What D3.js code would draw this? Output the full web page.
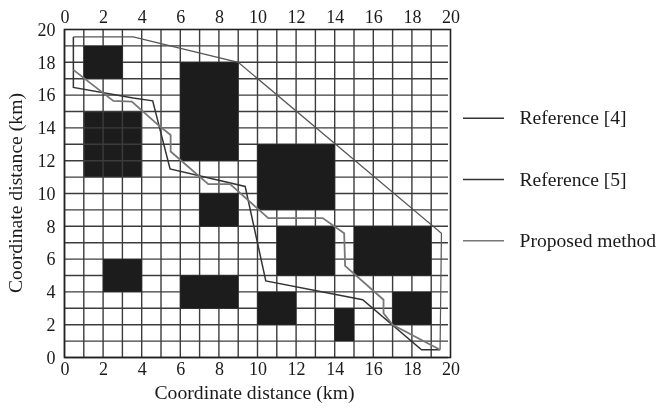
<!DOCTYPE html>
<html>
<head>
<meta charset="utf-8">
<script src="https://cdn.jsdelivr.net/npm/d3@7"></script>
<style>
body { margin: 0; background: #fff; }
svg { display: block; filter: blur(0.35px); }
text { font-family: "Liberation Serif", serif; fill: #1a1a1a; }
</style>
</head>
<body>
<div id="chart"></div>
<script>
const gridValues = d3.range(0, 20);
const tickValues = d3.range(0, 21, 2);

// obstacles as [x0, y0, x1, y1] in km
const griddedObstacles = [
    [1, 11, 4, 15]
];
const solidObstacles = [
    [1, 17, 3, 19],
    [6, 12, 9, 18],
    [10, 9, 14, 13],
    [7, 8, 9, 10],
    [11, 5, 14, 8],
    [15, 5, 19, 8],
    [2, 4, 4, 6],
    [6, 3, 9, 5],
    [10, 2, 12, 4],
    [17, 2, 19, 4],
    [14, 1, 15, 3]
];

const pathRef4 = [
    [0.46, 19.55], [3.56, 19.55], [9, 18], [19.53, 7.58], [19.46, 0.47]
];
const pathRef5 = [
    [0.46, 19.55], [0.46, 16.47], [3.56, 15.82], [4.57, 15.65], [5.47, 11.5], [9.36, 10.43],
    [10.43, 4.67], [15.45, 3.52], [18.5, 0.47], [19.46, 0.47]
];
const pathProposed = [
    [0.46, 17.54], [2.53, 15.65], [3.49, 15.6], [4.95, 14.08], [5.5, 13.57], [5.5, 12.56],
    [7.45, 10.57], [8.58, 10.57], [10.56, 8.5], [13.38, 8.5], [14.49, 7.58], [14.54, 5.59],
    [16.53, 3.52], [16.53, 2.7], [17, 2], [19.46, 0.47]
];

const legendLabels = ["Reference [4]", "Reference [5]", "Proposed method"];
const legendColors = ["#333", "#333", "#777"];

const svg = d3.select("#chart").append("svg").attr("width", 658).attr("height", 408);

const scaleX = d3.scaleLinear().domain([0, 20]).range([64.5, 450.5]);
const scaleY = d3.scaleLinear().domain([0, 20]).range([357.5, 29.5]);

function drawObstacles(data) {
    svg.append("g").selectAll("rect").data(data).enter().append("rect")
        .attr("x", d => scaleX(d[0]))
        .attr("y", d => scaleY(d[3]))
        .attr("width", d => scaleX(d[2]) - scaleX(d[0]))
        .attr("height", d => scaleY(d[1]) - scaleY(d[3]))
        .attr("fill", "#1c1c1c");
}

drawObstacles(griddedObstacles);

const grid = svg.append("g").attr("stroke", "#3c3c3c").attr("stroke-width", 1.4);
grid.selectAll("line.v").data(gridValues).enter().append("line")
    .attr("class", "v")
    .attr("x1", d => scaleX(d)).attr("x2", d => scaleX(d))
    .attr("y1", scaleY(0)).attr("y2", scaleY(20));
// the horizontal lines stop just short of the right border
grid.selectAll("line.h").data(gridValues).enter().append("line")
    .attr("class", "h")
    .attr("x1", scaleX(0)).attr("x2", scaleX(19.87))
    .attr("y1", d => scaleY(d)).attr("y2", d => scaleY(d));

drawObstacles(solidObstacles);

svg.append("rect")
    .attr("x", scaleX(0)).attr("y", scaleY(20))
    .attr("width", scaleX(20) - scaleX(0)).attr("height", scaleY(0) - scaleY(20))
    .attr("fill", "none").attr("stroke", "#222").attr("stroke-width", 1.6);

const line = d3.line().x(d => scaleX(d[0])).y(d => scaleY(d[1]));
svg.append("path").attr("d", line(pathRef4)).attr("fill", "none").attr("stroke", "#555").attr("stroke-width", 1.2);
svg.append("path").attr("d", line(pathRef5)).attr("fill", "none").attr("stroke", "#333").attr("stroke-width", 1.5);
svg.append("path").attr("d", line(pathProposed)).attr("fill", "none").attr("stroke", "#777").attr("stroke-width", 1.8);

// axes, only the labels are visible
const axisFont = g => {
    g.select(".domain").remove();
    g.selectAll(".tick line").remove();
    g.selectAll("text").attr("font-size", 18).attr("font-family", "Liberation Serif").attr("fill", "#1a1a1a");
};
svg.append("g").attr("transform", "translate(0," + scaleY(0) + ")")
    .call(d3.axisBottom(scaleX).tickValues(tickValues).tickSize(0).tickPadding(5)).call(axisFont);
svg.append("g").attr("transform", "translate(0," + scaleY(20) + ")")
    .call(d3.axisTop(scaleX).tickValues(tickValues).tickSize(0).tickPadding(7)).call(axisFont);
svg.append("g").attr("transform", "translate(" + scaleX(0) + ",0)")
    .call(d3.axisLeft(scaleY).tickValues(tickValues).tickSize(0).tickPadding(9)).call(axisFont);

svg.append("text").attr("x", 254.5).attr("y", 399).attr("text-anchor", "middle")
    .attr("font-size", 19.7).text("Coordinate distance (km)");
svg.append("text").attr("transform", "translate(22,193) rotate(-90)").attr("text-anchor", "middle")
    .attr("font-size", 19.7).text("Coordinate distance (km)");

const legend = svg.append("g").selectAll("g").data(legendLabels).enter().append("g")
    .attr("transform", (d, i) => "translate(463," + (118.3 + i * 61.2) + ")");
legend.append("line").attr("x1", 0).attr("x2", 41)
    .attr("stroke", (d, i) => legendColors[i]).attr("stroke-width", 1.6);
legend.append("text").attr("x", 56.5).attr("y", 6).attr("font-size", 19.6).text(d => d);
</script>
</body>
</html>
